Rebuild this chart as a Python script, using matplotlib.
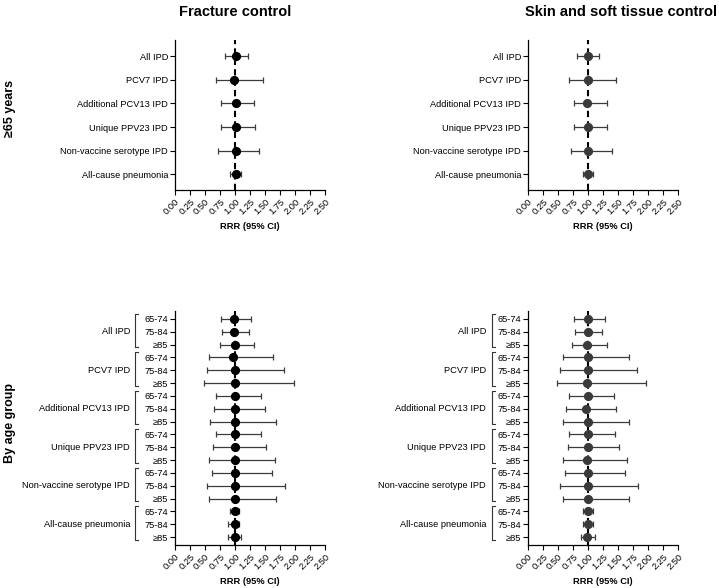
import numpy as np
import matplotlib
matplotlib.use('Agg')
import matplotlib.pyplot as plt
import matplotlib.transforms as mtransforms

plt.rcParams['font.family'] = ['Liberation Sans', 'DejaVu Sans']

outcomes = ['All IPD', 'PCV7 IPD', 'Additional PCV13 IPD', 'Unique PPV23 IPD',
            'Non-vaccine serotype IPD', 'All-cause pneumonia']
ages = ['65-74', '75-84', '\u226585']
controls = ['Fracture control', 'Skin and soft tissue control']

# >=65 years (point, lower, upper)
frac_all = [1.01, 0.99, 1.01, 1.01, 1.01, 1.01]
frac_all_lo = [0.84, 0.68, 0.76, 0.76, 0.72, 0.92]
frac_all_hi = [1.21, 1.46, 1.32, 1.33, 1.40, 1.10]

skin_all = [1.00, 1.00, 0.99, 1.00, 1.00, 1.00]
skin_all_lo = [0.82, 0.68, 0.76, 0.76, 0.72, 0.92]
skin_all_hi = [1.19, 1.47, 1.31, 1.32, 1.40, 1.09]

# by age group, 3 rows per outcome
frac_age = [0.99, 0.99, 1.00, 0.96, 1.00, 1.00, 1.00, 1.00, 1.00,
            1.00, 1.00, 1.00, 1.00, 1.00, 1.00, 1.00, 1.00, 1.00]
frac_age_lo = [0.76, 0.78, 0.75, 0.57, 0.54, 0.49, 0.68, 0.65, 0.58,
               0.68, 0.64, 0.57, 0.61, 0.53, 0.57, 0.91, 0.89, 0.88]
frac_age_hi = [1.27, 1.24, 1.32, 1.63, 1.81, 1.99, 1.44, 1.50, 1.68,
               1.43, 1.51, 1.67, 1.62, 1.84, 1.69, 1.07, 1.07, 1.10]

skin_age = [1.00, 1.00, 0.99, 1.00, 1.00, 0.99, 1.00, 0.97, 1.00,
            1.00, 1.00, 0.98, 1.00, 1.00, 1.00, 1.00, 1.00, 0.99]
skin_age_lo = [0.77, 0.78, 0.74, 0.58, 0.54, 0.48, 0.68, 0.64, 0.58,
               0.68, 0.66, 0.58, 0.61, 0.53, 0.58, 0.91, 0.91, 0.88]
skin_age_hi = [1.28, 1.24, 1.31, 1.68, 1.81, 1.97, 1.44, 1.47, 1.68,
               1.45, 1.51, 1.65, 1.61, 1.83, 1.69, 1.08, 1.09, 1.11]

xticks = np.arange(0, 2.51, 0.25)
W, H = 719, 588
fig = plt.figure(figsize=(W / 100, H / 100), dpi=100)


def px_axes(x0, y0, x1, y1):
    return fig.add_axes([x0 / W, 1 - y1 / H, (x1 - x0) / W, (y1 - y0) / H])


def forest(ax, est, lo, hi, dot_color, ylabels):
    n = len(est)
    y = np.arange(n)
    est = np.array(est)
    err = [est - np.array(lo), np.array(hi) - est]
    ax.axvline(1.0, color='black', ls=(0, (3, 2)), lw=1.5, zorder=1)
    ax.errorbar(est, y, xerr=err, fmt='o', color=dot_color, ecolor='#3c3c3c',
                elinewidth=0.9, capsize=2.2, capthick=0.9, markersize=5.6, zorder=3)
    ax.set_xlim(0, 2.5)
    ax.set_xticks(xticks)
    ax.set_xticklabels(['%.2f' % v for v in xticks], rotation=45,
                       ha='right', rotation_mode='anchor', fontsize=6.7)
    ax.set_yticks(y)
    ax.set_yticklabels(ylabels, fontsize=6.7)
    ax.set_xlabel('RRR (95% CI)', fontsize=6.7, fontweight='bold', labelpad=4)
    for s in ['top', 'right']:
        ax.spines[s].set_visible(False)
    for s in ['left', 'bottom']:
        ax.spines[s].set_linewidth(0.9)
    ax.tick_params(axis='both', direction='out', width=0.8, length=3.5, pad=1.5)


dot_colors = ['black', '#3a3a3a']
tops = [(175, 325), (528, 678)]

for i in range(2):
    x0, x1 = tops[i]
    ax = px_axes(x0, 40, x1, 190)
    if i == 0:
        forest(ax, frac_all, frac_all_lo, frac_all_hi, dot_colors[i], outcomes)
    else:
        forest(ax, skin_all, skin_all_lo, skin_all_hi, dot_colors[i], outcomes)
    ax.set_ylim(5.67, -0.69)

brk_x = [-0.267, -0.238]
lab_x = [-0.30, -0.28]
for i in range(2):
    x0, x1 = tops[i]
    ax = px_axes(x0, 311, x1, 545)
    if i == 0:
        forest(ax, frac_age, frac_age_lo, frac_age_hi, dot_colors[i], ages * 6)
    else:
        forest(ax, skin_age, skin_age_lo, skin_age_hi, dot_colors[i], ages * 6)
    ax.set_ylim(17.62, -0.62)
    trans = mtransforms.blended_transform_factory(ax.transAxes, ax.transData)
    bx = brk_x[i]
    for g, name in enumerate(outcomes):
        r0 = 3 * g - 0.42
        r1 = 3 * g + 2.2
        ax.plot([bx + 0.02, bx, bx, bx + 0.02], [r0, r0, r1, r1], color='#333333',
                lw=0.8, transform=trans, clip_on=False)
        ax.text(lab_x[i], 3 * g + 1, name, transform=trans, ha='right',
                va='center', fontsize=6.7)

fig.text(235 / W, 1 - 12 / H, controls[0], ha='center', va='center',
         fontsize=10.5, fontweight='bold')
fig.text(621 / W, 1 - 12 / H, controls[1], ha='center', va='center',
         fontsize=10.5, fontweight='bold')
fig.text(10 / W, 1 - 108 / H, '\u226565 years', rotation=90, ha='center',
         va='center', fontsize=9, fontweight='bold')
fig.text(10 / W, 1 - 423 / H, 'By age group', rotation=90, ha='center',
         va='center', fontsize=9, fontweight='bold')

fig.savefig('out.png', dpi=100)
